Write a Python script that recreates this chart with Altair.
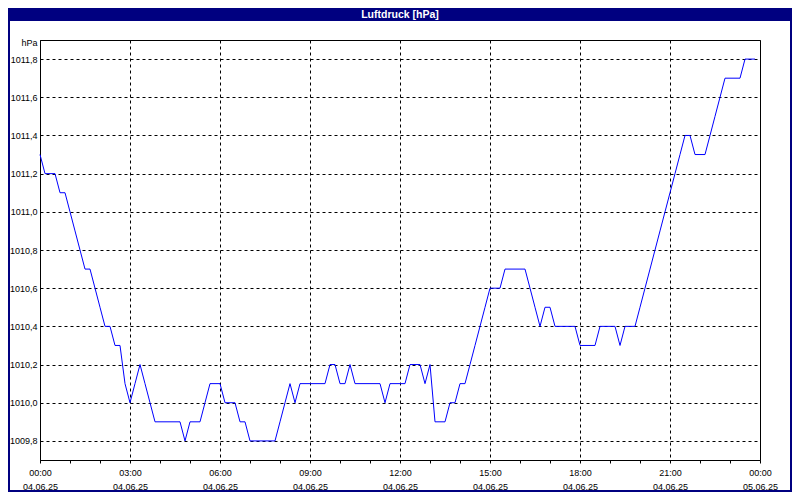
import altair as alt
import pandas as pd

# Luftdruck readings every 10 minutes, 04.06.25 00:00 .. 23:50 (hPa)
pressure = [
    1011.3, 1011.2, 1011.2, 1011.2, 1011.1, 1011.1, 1011.0, 1010.9, 1010.8, 1010.7,
    1010.7, 1010.6, 1010.5, 1010.4, 1010.4, 1010.3, 1010.3, 1010.1, 1010.0, 1010.1,
    1010.2, 1010.1, 1010.0, 1009.9, 1009.9, 1009.9, 1009.9, 1009.9, 1009.9, 1009.8,
    1009.9, 1009.9, 1009.9, 1010.0, 1010.1, 1010.1, 1010.1, 1010.0, 1010.0, 1010.0,
    1009.9, 1009.9, 1009.8, 1009.8, 1009.8, 1009.8, 1009.8, 1009.8, 1009.9, 1010.0,
    1010.1, 1010.0, 1010.1, 1010.1, 1010.1, 1010.1, 1010.1, 1010.1, 1010.2, 1010.2,
    1010.1, 1010.1, 1010.2, 1010.1, 1010.1, 1010.1, 1010.1, 1010.1, 1010.1, 1010.0,
    1010.1, 1010.1, 1010.1, 1010.1, 1010.2, 1010.2, 1010.2, 1010.1, 1010.2, 1009.9,
    1009.9, 1009.9, 1010.0, 1010.0, 1010.1, 1010.1, 1010.2, 1010.3, 1010.4, 1010.5,
    1010.6, 1010.6, 1010.6, 1010.7, 1010.7, 1010.7, 1010.7, 1010.7, 1010.6, 1010.5,
    1010.4, 1010.5, 1010.5, 1010.4, 1010.4, 1010.4, 1010.4, 1010.4, 1010.3, 1010.3,
    1010.3, 1010.3, 1010.4, 1010.4, 1010.4, 1010.4, 1010.3, 1010.4, 1010.4, 1010.4,
    1010.5, 1010.6, 1010.7, 1010.8, 1010.9, 1011.0, 1011.1, 1011.2, 1011.3, 1011.4,
    1011.4, 1011.3, 1011.3, 1011.3, 1011.4, 1011.5, 1011.6, 1011.7, 1011.7, 1011.7,
    1011.7, 1011.8, 1011.8, 1011.8,
]
start_time = "2025-06-04T00:00:00Z"
interval = "10min"
y_ticks = [1009.8, 1010.0, 1010.2, 1010.4, 1010.6, 1010.8, 1011.0, 1011.2, 1011.4, 1011.6, 1011.8]
title_text = "Luftdruck [hPa]"
unit_text = "hPa"

times = pd.date_range(start=start_time, periods=len(pressure), freq=interval)
df = pd.DataFrame({
    "time": [t.strftime("%Y-%m-%dT%H:%M:%SZ") for t in times],
    "value": pressure,
})

hour_values = [alt.DateTime(year=2025, month=6, date=4 + (h // 24), hours=h % 24, utc=True) for h in range(25)]

FONT = "Liberation Sans"

x_enc = alt.X(
    "time:T",
    scale=alt.Scale(
        type="utc",
        domain=[alt.DateTime(year=2025, month=6, date=4, hours=0, utc=True),
                alt.DateTime(year=2025, month=6, date=5, hours=0, utc=True)],
        nice=False,
    ),
    axis=alt.Axis(
        values=hour_values,
        title=None,
        labelExpr="utchours(datum.value) % 3 == 0 ? [utcFormat(datum.value, '%H:%M'), utcFormat(datum.value, '%d.%m.%y')] : ''",
        labelOverlap=False,
        labelFlush=False,
        labelFont=FONT,
        labelFontSize=9,
        labelColor="black",
        labelLineHeight=14.5,
        labelPadding=5,
        tickSize=3,
        tickColor="black",
        domainColor="black",
        grid=True,
        gridColor="black",
        gridDash=[3, 3],
        gridOpacity={"condition": {"test": "utchours(datum.value) % 3 == 0", "value": 1}, "value": 0},
    ),
)

y_enc = alt.Y(
    "value:Q",
    scale=alt.Scale(domain=[1009.7, 1011.9], nice=False, zero=False),
    axis=alt.Axis(
        values=y_ticks,
        labelExpr="replace(format(datum.value, '.1f'), '.', ',')",
        labelFont=FONT,
        labelFontSize=9,
        labelColor="black",
        labelPadding=3,
        tickSize=0,
        domainColor="black",
        grid=True,
        gridColor="black",
        gridDash=[3, 3],
        title=unit_text,
        titleAngle=0,
        titleAlign="right",
        titleBaseline="middle",
        titleX=-3,
        titleY=2,
        titleFont=FONT,
        titleFontSize=9,
        titleFontWeight="normal",
        titleColor="black",
    ),
)

line = alt.Chart(df).mark_line(color="#0000ff", strokeWidth=1, interpolate="linear").encode(x=x_enc, y=y_enc)

deco = pd.DataFrame({"label": [title_text]})

title_bar = alt.Chart(deco).mark_rect(color="#000080").encode(
    x=alt.value(-31), x2=alt.value(751), y=alt.value(-31), y2=alt.value(-19)
)
frame = alt.Chart(deco).mark_rect(filled=False, stroke="#000080", strokeWidth=2).encode(
    x=alt.value(-31), x2=alt.value(751), y=alt.value(-31), y2=alt.value(451)
)
title = alt.Chart(deco).mark_text(
    color="white", font=FONT, fontSize=10.5, fontWeight="bold", align="center", baseline="middle"
).encode(x=alt.value(360), y=alt.value(-25), text="label:N")

chart = alt.layer(line, title_bar, frame, title).properties(
    width=720,
    height=420,
    autosize="none",
    padding={"left": 32, "top": 32, "right": 32, "bottom": 32},
    background="white",
).configure_view(stroke="black", strokeWidth=1)

chart.save("out.html", embed_options={"renderer": "svg", "actions": False})
